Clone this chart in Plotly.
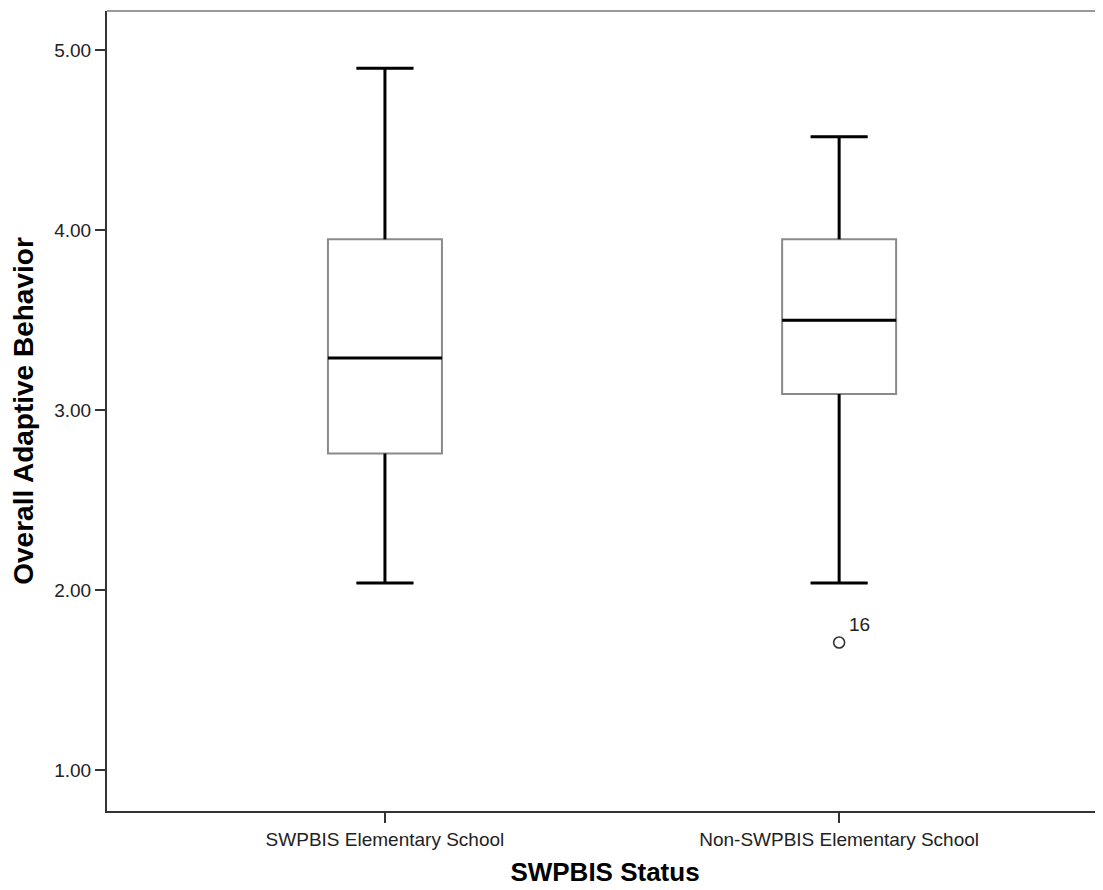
import plotly.graph_objects as go

# ---- data ----
categories = ["SWPBIS Elementary School", "Non-SWPBIS Elementary School"]
upper_whisker = [4.90, 4.52]
q3_values = [3.95, 3.95]
median_values = [3.29, 3.50]
q1_values = [2.76, 3.09]
lower_whisker = [2.04, 2.04]
outlier_group = [1]
outlier_values = [1.71]
outlier_labels = ["16"]
y_ticks = [1.0, 2.0, 3.0, 4.0, 5.0]

FONT = "Arial, 'Liberation Sans', sans-serif"
BOX_W = 0.251
CAP_HALF = BOX_W / 4

fig = go.Figure()

positions = list(range(len(categories)))

for i in positions:
    fig.add_trace(go.Box(
        x=[i], q1=[q1_values[i]], median=[median_values[i]], q3=[q3_values[i]],
        lowerfence=[lower_whisker[i]], upperfence=[upper_whisker[i]],
        width=BOX_W, whiskerwidth=0.5, boxpoints=False,
        fillcolor="white", line=dict(color="#8a8a8a", width=2),
        hoverinfo="skip", showlegend=False,
    ))

# black whiskers and medians drawn over the box
for i in positions:
    xs = [i, i, None, i - CAP_HALF, i + CAP_HALF, None,
          i, i, None, i - CAP_HALF, i + CAP_HALF, None,
          i - BOX_W / 2, i + BOX_W / 2]
    ys = [q3_values[i], upper_whisker[i], None, upper_whisker[i], upper_whisker[i], None,
          q1_values[i], lower_whisker[i], None, lower_whisker[i], lower_whisker[i], None,
          median_values[i], median_values[i]]
    fig.add_trace(go.Scatter(
        x=xs, y=ys, mode="lines", line=dict(color="black", width=3),
        hoverinfo="skip", showlegend=False,
    ))

fig.add_trace(go.Scatter(
    x=outlier_group, y=outlier_values, mode="markers",
    marker=dict(symbol="circle-open", size=11, color="#333333", line=dict(width=1.6)),
    hoverinfo="skip", showlegend=False,
))
for g, v, lab in zip(outlier_group, outlier_values, outlier_labels):
    fig.add_annotation(x=g, y=v, text=lab, showarrow=False, xshift=20, yshift=18,
                       font=dict(family=FONT, size=19, color="#222222"))

fig.add_shape(type="line", xref="paper", yref="paper", x0=0, x1=1, y0=1, y1=1,
              line=dict(color="#999999", width=2))

fig.update_layout(
    width=1095, height=882,
    margin=dict(l=99, r=0, t=3, b=79),
    paper_bgcolor="white", plot_bgcolor="white",
    font=dict(family=FONT, color="#222222"),
    xaxis=dict(
        range=[-0.612, 1.581], tickvals=positions, ticktext=categories,
        showgrid=False, zeroline=False, showline=True, linecolor="#333333", linewidth=2,
        ticks="outside", ticklen=10, tickwidth=2, tickcolor="#333333",
        tickfont=dict(family=FONT, size=19, color="#222222"),
        title=dict(text="<b>SWPBIS Status</b>", font=dict(family=FONT, size=26, color="black"),
                   standoff=14),
    ),
    yaxis=dict(
        range=[0.774, 5.218], tickvals=y_ticks, tickformat=".2f",
        showgrid=False, zeroline=False, showline=True, linecolor="#333333", linewidth=2,
        ticks="outside", ticklen=10, tickwidth=2, tickcolor="#333333",
        tickfont=dict(family=FONT, size=19, color="#222222"),
        title=dict(text="<b>Overall Adaptive Behavior</b>",
                   font=dict(family=FONT, size=28, color="black"), standoff=14),
    ),
)

fig.write_html("out.html")
